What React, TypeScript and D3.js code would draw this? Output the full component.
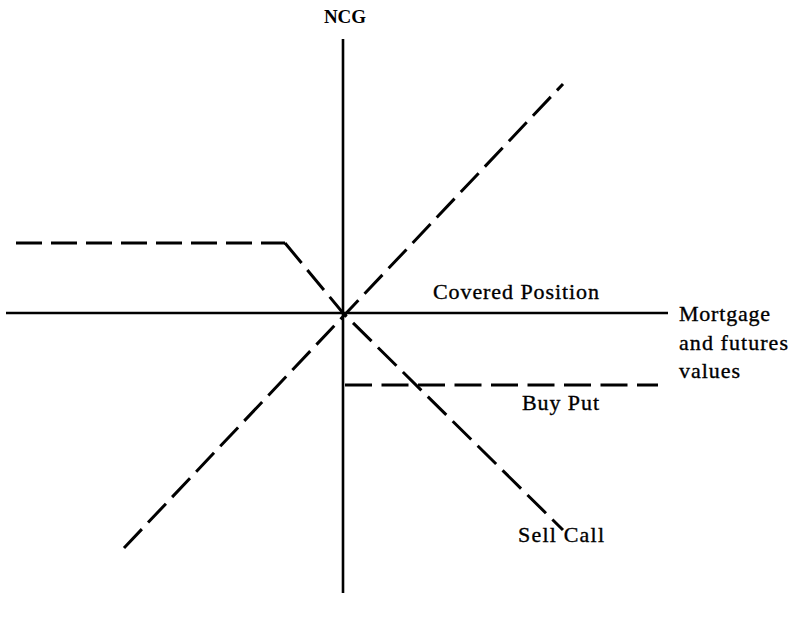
import React from "react";
import * as d3 from "d3";

// Payoff diagram values, in abstract value units (origin = covered position at zero)
const axisX: [number, number] = [-16.85, 16.25];
const axisY: [number, number] = [13.7, -14.0];
const futuresLine: [number, number][] = [[-10.95, -11.75], [11.0, 11.45]];
const sellCallFlat: [number, number][] = [[-16.35, 3.5], [-2.9, 3.5]];
const sellCallSlope: [number, number][] = [[-2.9, 3.5], [0, 0], [11.0, -10.85]];
const buyPutLine: [number, number][] = [[0.1, -3.6], [15.75, -3.6]];
const rightLabelLines = ["Mortgage", "and futures", "values"];
const rightLabelWidths = [91, 109, 61];
const labels = { yAxis: "NCG", covered: "Covered Position", buyPut: "Buy Put", sellCall: "Sell Call" };

const W = 791, H = 618;

export default function App() {
  const x = d3.scaleLinear().domain([-17, 17]).range([3, 683]);
  const y = d3.scaleLinear().domain([-15, 15]).range([613, 13]);
  const line = d3.line<[number, number]>().x(d => x(d[0])).y(d => y(d[1]));
  const font = "'Liberation Serif', 'Times New Roman', serif";
  const dash = "26 9";
  return (
    <svg width={W} height={H} style={{ position: "absolute", left: 0, top: 0, background: "#fff" }}>
      <g fill="none" stroke="#000" strokeLinecap="butt">
        <line x1={x(axisX[0])} x2={x(axisX[1])} y1={y(0)} y2={y(0)} strokeWidth={2.6} />
        <line x1={x(0)} x2={x(0)} y1={y(axisY[0])} y2={y(axisY[1])} strokeWidth={2.6} />
        <path d={line(futuresLine) ?? ""} strokeWidth={3} strokeDasharray={dash} />
        <path d={line(sellCallFlat) ?? ""} strokeWidth={3} strokeDasharray={dash} />
        <path d={line(sellCallSlope) ?? ""} strokeWidth={3} strokeDasharray={dash} />
        <path d={line(buyPutLine) ?? ""} strokeWidth={3} strokeDasharray="27 9.5" />
      </g>
      <g fontFamily={font} fill="#000" fontSize={22} stroke="#000" strokeWidth={0.35}>
        <text x={x(0) + 2} y={23} textAnchor="middle" fontSize={19} fontWeight="bold" strokeWidth={0}>{labels.yAxis}</text>
        <text x={433} y={299} textLength={166}>{labels.covered}</text>
        <text x={522} y={410} textLength={77}>{labels.buyPut}</text>
        <text x={518} y={542} textLength={86}>{labels.sellCall}</text>
        {rightLabelLines.map((t, i) => (
          <text key={t} x={679} y={321 + i * 28.5} textLength={rightLabelWidths[i]}>{t}</text>
        ))}
      </g>
    </svg>
  );
}
